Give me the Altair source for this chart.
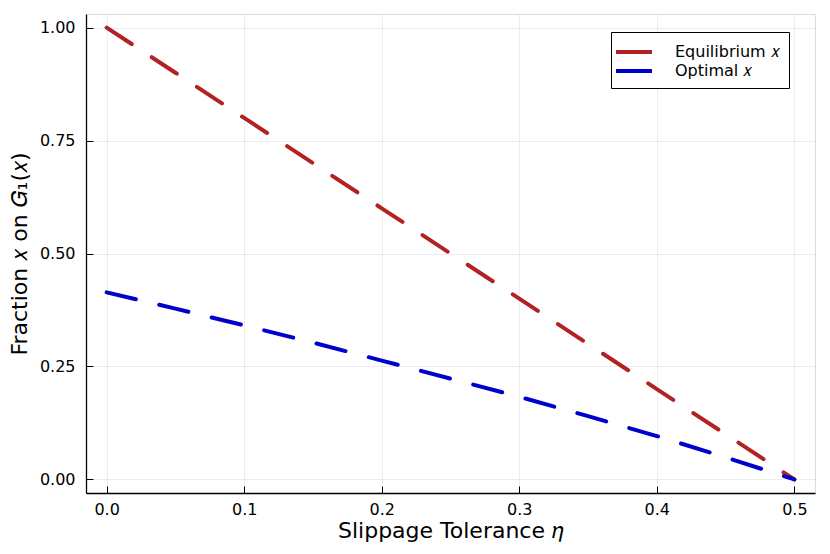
import altair as alt
import pandas as pd

eta = [0.0, 0.05, 0.10, 0.15, 0.20, 0.25, 0.30, 0.35, 0.40, 0.45, 0.50]
equilibrium = [1.0, 0.9, 0.8, 0.7, 0.6, 0.5, 0.4, 0.3, 0.2, 0.1, 0.0]
optimal = [0.414, 0.378, 0.341, 0.303, 0.263, 0.223, 0.183, 0.140, 0.096, 0.049, 0.0]
series_names = ["Equilibrium 𝑥", "Optimal 𝑥"]
series_colors = ["#B22222", "#0000CD"]
x_ticks = [0.0, 0.1, 0.2, 0.3, 0.4, 0.5]
y_ticks = [0.0, 0.25, 0.5, 0.75, 1.0]

rows = []
for e, v in zip(eta, equilibrium):
    rows.append({"eta": e, "value": v, "series": series_names[0]})
for e, v in zip(eta, optimal):
    rows.append({"eta": e, "value": v, "series": series_names[1]})
df = pd.DataFrame(rows)

FONT = "DejaVu Sans"
xscale = alt.Scale(domain=[-0.015, 0.515], nice=False, zero=False)
yscale = alt.Scale(domain=[-0.03, 1.03], nice=False, zero=False)
cscale = alt.Scale(domain=series_names, range=series_colors)

main = alt.Chart(df).mark_line(
    strokeWidth=4, strokeCap="round", strokeDash=[30, 24]
).encode(
    x=alt.X("eta:Q", scale=xscale, axis=alt.Axis(
        orient="bottom", values=x_ticks, format=".1f", title="Slippage Tolerance 𝜂",
        domain=True, domainColor="black", domainWidth=1.3, ticks=False,
        grid=True, gridColor="black", gridOpacity=0.1, gridWidth=0.7,
        labelFont=FONT, labelFontSize=16, labelColor="black", labelPadding=8,
        titleFont=FONT, titleFontSize=22, titleFontWeight="normal", titleColor="black",
        titlePadding=3)),
    y=alt.Y("value:Q", scale=yscale, axis=alt.Axis(
        orient="left", values=y_ticks, format=".2f", title="Fraction 𝑥 on 𝐺₁(𝑥)",
        domain=True, domainColor="black", domainWidth=1.3, ticks=False,
        grid=True, gridColor="black", gridOpacity=0.1, gridWidth=0.7,
        labelFont=FONT, labelFontSize=16, labelColor="black", labelPadding=11,
        titleFont=FONT, titleFontSize=22, titleFontWeight="normal", titleColor="black",
        titlePadding=8)),
    color=alt.Color("series:N", scale=cscale, legend=None),
)

# empty solid layer that only supplies the legend (solid symbols, as in the reference)
legend_layer = alt.Chart(df).transform_filter("datum.eta < 0").mark_line(
    strokeWidth=4, strokeCap="round"
).encode(
    x=alt.X("eta:Q", scale=xscale, axis=None),
    y=alt.Y("value:Q", scale=yscale, axis=None),
    color=alt.Color("series:N", scale=cscale, legend=alt.Legend(
        title=None, orient="none", legendX=525, legendY=18,
        strokeColor="black", fillColor="white", padding=9, rowPadding=-1,
        symbolType="M-2,0H2", symbolSize=324, symbolStrokeWidth=4, symbolOffset=3,
        labelFont=FONT, labelFontSize=16, labelColor="black", labelOffset=30)),
)

ticks = alt.Chart(df).mark_line(opacity=0).encode(
    x=alt.X("eta:Q", scale=xscale, axis=alt.Axis(
        orient="bottom", values=x_ticks, domain=False, labels=False, grid=False,
        ticks=True, tickSize=7, tickColor="black", tickWidth=1, offset=-7, title=None)),
    y=alt.Y("value:Q", scale=yscale, axis=alt.Axis(
        orient="left", values=y_ticks, domain=False, labels=False, grid=False,
        ticks=True, tickSize=7, tickColor="black", tickWidth=1, offset=-7, title=None)),
    detail="series:N",
)

chart = alt.layer(legend_layer, main, ticks).resolve_axis(
    x="independent", y="independent"
).resolve_legend(color="independent").properties(
    width=729, height=479,
    autosize=alt.AutoSizeParams(type="none"),
    padding={"left": 78, "top": 6, "right": 7, "bottom": 50},
).configure_view(stroke=None).configure(background="white")

chart.save("out.html", embed_options={"renderer": "svg", "actions": False})
